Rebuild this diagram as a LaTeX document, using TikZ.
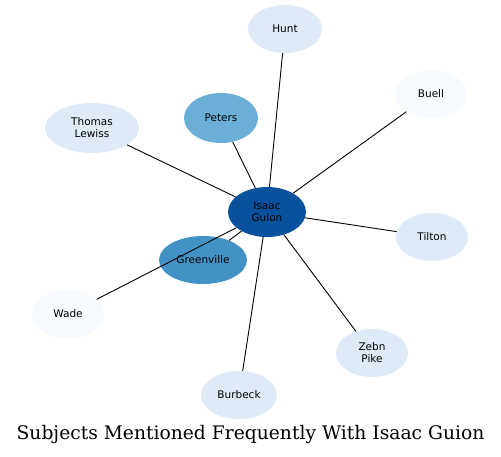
\documentclass[tikz,border=0pt]{standalone}
\usepackage{fontspec}
\usetikzlibrary{shapes.geometric}
\newfontfamily\nodefont{DejaVu Sans}
\newfontfamily\titlefont{DejaVu Serif}
\definecolor{cdark}{HTML}{08519C}
\definecolor{cmid}{HTML}{4292C6}
\definecolor{clight}{HTML}{6BAED6}
\definecolor{cpale}{HTML}{DEEBF7}
\definecolor{cwhite}{HTML}{F7FBFF}
\begin{document}
\begin{tikzpicture}[x=1pt,y=-1pt,
  ent/.style={ellipse, draw=none, inner sep=0pt, align=center,
    font=\nodefont\fontsize{10.5}{12}\selectfont},
  link/.style={draw=black, line width=0.9pt}]
\useasboundingbox (0,0) rectangle (501,456);
\node[ent, fill=cdark, minimum width=78pt, minimum height=50pt] (isaac) at (267,212) {Isaac\\Guion};
\node[ent, fill=cpale, minimum width=74pt, minimum height=48pt] (hunt) at (285,29) {Hunt};
\node[ent, fill=cwhite, minimum width=72pt, minimum height=48pt] (buell) at (431,94) {Buell};
\node[ent, fill=clight, minimum width=74pt, minimum height=50pt] (peters) at (221,118) {Peters};
\node[ent, fill=cpale, minimum width=94pt, minimum height=50pt] (thomas) at (92,128) {Thomas\\Lewiss};
\node[ent, fill=cpale, minimum width=72pt, minimum height=48pt] (tilton) at (432,237) {Tilton};
\node[ent, fill=cmid, minimum width=88pt, minimum height=48pt] (green) at (203,260) {Greenville};
\node[ent, fill=cwhite, minimum width=72pt, minimum height=48pt] (wade) at (68,314) {Wade};
\node[ent, fill=cpale, minimum width=72pt, minimum height=48pt] (zebn) at (372,353) {Zebn\\Pike};
\node[ent, fill=cpale, minimum width=76pt, minimum height=48pt] (burbeck) at (239,395) {Burbeck};
\foreach \t in {hunt,buell,peters,thomas,tilton,green,wade,zebn,burbeck}
  \draw[link] (isaac) -- (\t);
\node[font=\titlefont\fontsize{18.7}{21}\selectfont] (title) at (250.5,434) {Subjects Mentioned Frequently With Isaac Guion};
\end{tikzpicture}
\end{document}
